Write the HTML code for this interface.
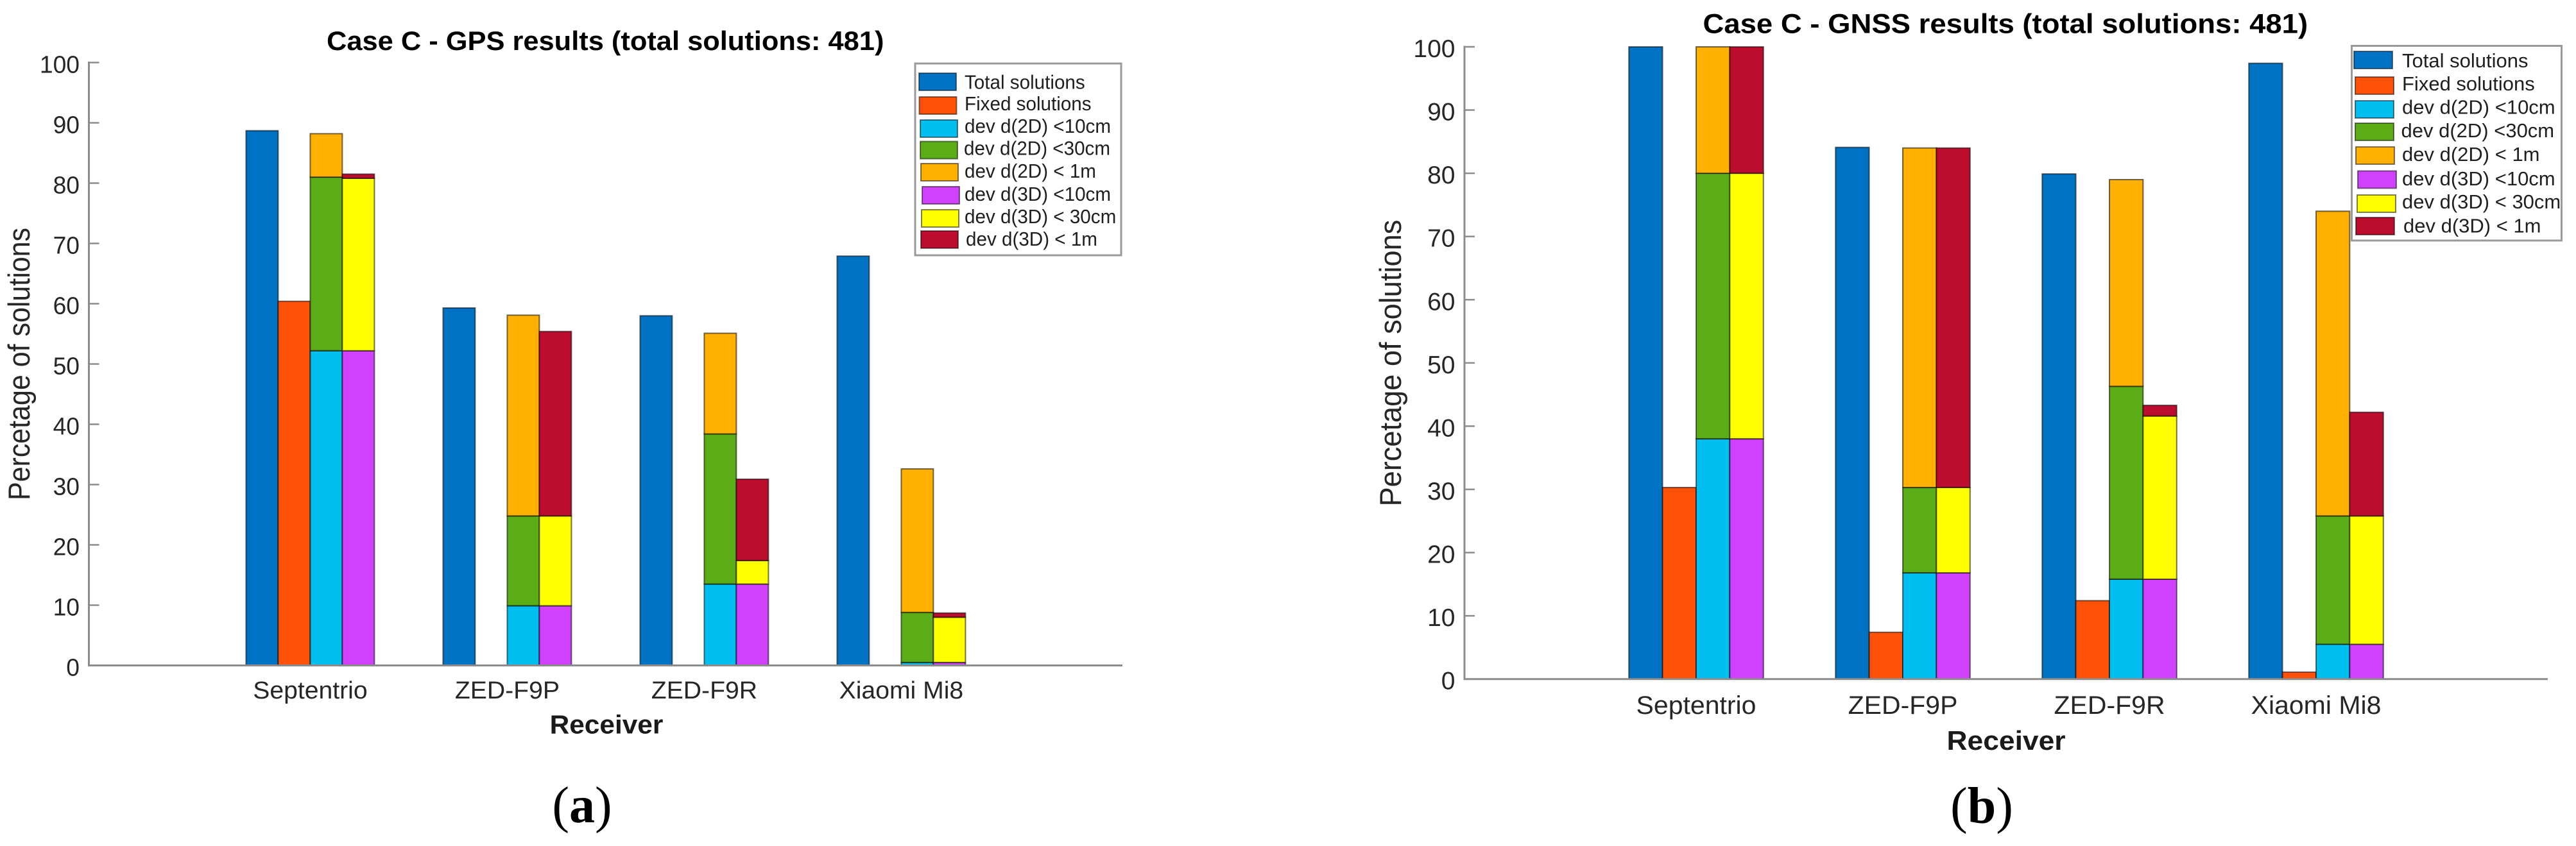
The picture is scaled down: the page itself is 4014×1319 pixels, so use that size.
<!DOCTYPE html>
<html lang="en">
<head>
<meta charset="utf-8">
<title>Case C - GPS and GNSS results</title>
<style>
html,body{margin:0;padding:0;background:#fff;}
body{width:4014px;height:1319px;overflow:hidden;}
svg{display:block;}
text{font-family:"Liberation Sans",Arial,sans-serif;fill:#262626;}
.serif{font-family:"Liberation Serif","Times New Roman",serif;fill:#000;}
.title{font-weight:bold;fill:#000;}
.xlabel{font-weight:bold;fill:#1a1a1a;}
.lt{fill:#1f1f1f;}
.sw{stroke:rgba(0,0,0,.5);stroke-width:2;}
.lb{fill:#fff;stroke:#9a9a9a;stroke-width:3;}
</style>
</head>
<body>
<svg id="fig" xmlns="http://www.w3.org/2000/svg" width="4014" height="1319" viewBox="0 0 4014 1319">
  <rect width="4014" height="1319" fill="#fff"/>

  <!-- Panel A -->
  <g id="panelA">
    <text class="title" font-size="42" transform="translate(509,78) scale(1.034,1)">Case C - GPS results (total solutions: 481)</text>
    <text font-size="47" transform="translate(46,780) rotate(-90) scale(.914,1)">Percetage of solutions</text>
    <text class="xlabel" font-size="41" text-anchor="middle" transform="translate(945,1143.5) scale(1.034,1)">Receiver</text>
    <g id="plotA"></g>
    <g>
      <rect class="lb" x="1426" y="99" width="321" height="299"/>
      <rect class="sw" x="1432" y="114" width="58" height="27" fill="#0072C4"/>
      <rect class="sw" x="1432.5" y="151" width="58" height="27" fill="#FF5208"/>
      <rect class="sw" x="1434" y="187" width="58" height="27" fill="#00BFF0"/>
      <rect class="sw" x="1434" y="220.5" width="58" height="27" fill="#5AAD16"/>
      <rect class="sw" x="1435" y="255" width="58" height="27" fill="#FFB000"/>
      <rect class="sw" x="1437" y="291" width="58" height="27" fill="#D042FF"/>
      <rect class="sw" x="1436" y="327" width="58" height="27" fill="#FFFF00"/>
      <rect class="sw" x="1435" y="360" width="58" height="27" fill="#BD0D2F"/>
      <text class="lt" font-size="31" transform="translate(1503,138.5) scale(.956,1)">Total solutions</text>
      <text class="lt" font-size="31" transform="translate(1503,172) scale(.956,1)">Fixed solutions</text>
      <text class="lt" font-size="31" transform="translate(1503,207) scale(.956,1)">dev d(2D) &lt;10cm</text>
      <text class="lt" font-size="31" transform="translate(1502,241.5) scale(.956,1)">dev d(2D) &lt;30cm</text>
      <text class="lt" font-size="31" transform="translate(1503,277) scale(.956,1)">dev d(2D) &lt; 1m</text>
      <text class="lt" font-size="31" transform="translate(1503,313) scale(.956,1)">dev d(3D) &lt;10cm</text>
      <text class="lt" font-size="31" transform="translate(1503,348) scale(.956,1)">dev d(3D) &lt; 30cm</text>
      <text class="lt" font-size="31" transform="translate(1505,383) scale(.956,1)">dev d(3D) &lt; 1m</text>
    </g>
    <text class="serif" font-size="80" text-anchor="middle" x="907" y="1282">(<tspan font-weight="bold">a</tspan>)</text>
  </g>

  <!-- Panel B -->
  <g id="panelB">
    <text class="title" font-size="43" transform="translate(2653.5,51.5) scale(1.058,1)">Case C - GNSS results (total solutions: 481)</text>
    <text font-size="47" transform="translate(2183,789.5) rotate(-90) scale(.961,1)">Percetage of solutions</text>
    <text class="xlabel" font-size="42" text-anchor="middle" transform="translate(3126,1169) scale(1.057,1)">Receiver</text>
    <g id="plotB"></g>
    <g>
      <rect class="lb" x="3664.5" y="71.5" width="327" height="303.5"/>
      <rect class="sw" x="3668" y="80" width="60" height="27" fill="#0072C4"/>
      <rect class="sw" x="3670" y="120" width="60" height="27" fill="#FF5208"/>
      <rect class="sw" x="3670" y="157" width="60" height="27" fill="#00BFF0"/>
      <rect class="sw" x="3670" y="192" width="60" height="27" fill="#5AAD16"/>
      <rect class="sw" x="3671" y="229" width="60" height="27" fill="#FFB000"/>
      <rect class="sw" x="3674" y="266.5" width="60" height="27" fill="#D042FF"/>
      <rect class="sw" x="3673" y="304" width="60" height="27" fill="#FFFF00"/>
      <rect class="sw" x="3671" y="339" width="60" height="27" fill="#BD0D2F"/>
      <text class="lt" font-size="31" transform="translate(3743,105)">Total solutions</text>
      <text class="lt" font-size="31" transform="translate(3743,141)">Fixed solutions</text>
      <text class="lt" font-size="31" transform="translate(3743,177.5)">dev d(2D) &lt;10cm</text>
      <text class="lt" font-size="31" transform="translate(3741.5,214)">dev d(2D) &lt;30cm</text>
      <text class="lt" font-size="31" transform="translate(3743,251)">dev d(2D) &lt; 1m</text>
      <text class="lt" font-size="31" transform="translate(3743,289)">dev d(3D) &lt;10cm</text>
      <text class="lt" font-size="31" transform="translate(3743,325)">dev d(3D) &lt; 30cm</text>
      <text class="lt" font-size="31" transform="translate(3745,362.5)">dev d(3D) &lt; 1m</text>
    </g>
    <text class="serif" font-size="80" text-anchor="middle" x="3088" y="1283">(<tspan font-weight="bold">b</tspan>)</text>
  </g>
</svg>

<script>
/* ---------- data ---------- */
const categories = ['Septentrio', 'ZED-F9P', 'ZED-F9R', 'Xiaomi Mi8'];
const yTickLabels = [0, 10, 20, 30, 40, 50, 60, 70, 80, 90, 100];

const gpsTotal  = [88.7, 59.3, 58.0, 67.9];
const gpsFixed  = [60.4, 0, 0, 0];
const gps2d10cm = [52.2, 9.9, 13.5, 0.5];
const gps2d30cm = [81.0, 24.8, 38.4, 8.8];
const gps2d1m   = [88.2, 58.1, 55.1, 32.6];
const gps3d10cm = [52.2, 9.9, 13.5, 0.5];
const gps3d30cm = [80.8, 24.8, 17.4, 8.0];
const gps3d1m   = [81.5, 55.4, 30.9, 8.7];

const gnssTotal  = [100, 84.1, 79.9, 97.4];
const gnssFixed  = [30.3, 7.4, 12.4, 1.1];
const gnss2d10cm = [38.0, 16.8, 15.8, 5.5];
const gnss2d30cm = [80.0, 30.3, 46.3, 25.8];
const gnss2d1m   = [100, 84.0, 79.0, 74.0];
const gnss3d10cm = [38.0, 16.8, 15.8, 5.5];
const gnss3d30cm = [80.0, 30.3, 41.6, 25.8];
const gnss3d1m   = [100, 84.0, 43.3, 42.2];

/* ---------- drawing ---------- */
const COLORS = {
  total: '#0072C4', fixed: '#FF5208',
  d2a: '#00BFF0', d2b: '#5AAD16', d2c: '#FFB000',
  d3a: '#D042FF', d3b: '#FFFF00', d3c: '#BD0D2F'
};
const SVGNS = 'http://www.w3.org/2000/svg';

function drawPanel(cfg) {
  const g = document.getElementById(cfg.groupId);
  const yScale = v => cfg.yZero - v * (cfg.yZero - cfg.yTop) / 100;
  const xScale = (cat, slot) => cfg.firstCenter + cat * cfg.step + (slot - 2) * cfg.barW;

  function addRect(x, yA, yB, fill, name) {
    const r = document.createElementNS(SVGNS, 'rect');
    r.setAttribute('x', x);
    r.setAttribute('y', Math.min(yA, yB));
    r.setAttribute('width', cfg.barW);
    r.setAttribute('height', Math.abs(yB - yA));
    r.setAttribute('fill', fill);
    r.setAttribute('stroke', 'rgba(0,0,0,.55)');
    r.setAttribute('stroke-width', '2');
    
    
    g.appendChild(r);
  }

  categories.forEach((cat, i) => {
    cfg.slots.forEach((stack, slot) => {
      let prev = 0;
      stack.forEach(seg => {
        const v = seg.values[i];
        if (v > prev) {
          addRect(xScale(i, slot), yScale(prev), yScale(v), seg.color, cfg.prefix + '-bar-' + seg.key + '-' + i);
          prev = v;
        }
      });
    });
  });

  function addLine(x1, y1, x2, y2, width, color, name) {
    const l = document.createElementNS(SVGNS, 'line');
    l.setAttribute('x1', x1);
    l.setAttribute('y1', y1);
    l.setAttribute('x2', x2);
    l.setAttribute('y2', y2);
    l.setAttribute('stroke', color);
    l.setAttribute('stroke-width', width);
    
    
    g.appendChild(l);
  }

  function addText(str, x, y, size, anchor, sx, name) {
    const t = document.createElementNS(SVGNS, 'text');
    t.textContent = str;
    t.setAttribute('font-size', size);
    t.setAttribute('text-anchor', anchor);
    t.setAttribute('transform', 'translate(' + x + ',' + y + ') scale(' + sx + ',1)');
    
    
    g.appendChild(t);
  }

  addLine(cfg.xLeft, cfg.yTop - 1.5, cfg.xLeft, cfg.yZero + 1.5, 3, '#8c8c8c', cfg.prefix + '-y-axis-line');
  addLine(cfg.xLeft, cfg.yZero, cfg.xRight, cfg.yZero, 3, '#8c8c8c', cfg.prefix + '-x-axis-line');

  yTickLabels.forEach(v => {
    const y = yScale(v);
    addLine(cfg.xLeft, y, cfg.xLeft + 16, y, 2.5, '#8c8c8c', cfg.prefix + '-y-tick-' + v);
    addText(String(v), cfg.xLeft - 14.5, y + 16, cfg.tickFont, 'end', cfg.tickScale, cfg.prefix + '-y-tick-label-' + v);
  });

  categories.forEach((cat, i) => {
    addText(cat, cfg.firstCenter + i * cfg.step, cfg.xLabelY, cfg.xFont, 'middle', cfg.xScaleText, cfg.prefix + '-x-tick-label-' + i);
  });
}

drawPanel({
  groupId: 'plotA', prefix: 'gps',
  xLeft: 138.5, xRight: 1749, yTop: 97.5, yZero: 1037.5,
  firstCenter: 483.4, step: 307, barW: 50,
  tickFont: 38, tickScale: .98, xFont: 38, xScaleText: 1.03, xLabelY: 1089,
  slots: [
    [{key: 'total', values: gpsTotal, color: COLORS.total}],
    [{key: 'fixed', values: gpsFixed, color: COLORS.fixed}],
    [{key: '2d-10cm', values: gps2d10cm, color: COLORS.d2a},
     {key: '2d-30cm', values: gps2d30cm, color: COLORS.d2b},
     {key: '2d-1m', values: gps2d1m, color: COLORS.d2c}],
    [{key: '3d-10cm', values: gps3d10cm, color: COLORS.d3a},
     {key: '3d-30cm', values: gps3d30cm, color: COLORS.d3b},
     {key: '3d-1m', values: gps3d1m, color: COLORS.d3c}]
  ]
});

drawPanel({
  groupId: 'plotB', prefix: 'gnss',
  xLeft: 2282, xRight: 3970, yTop: 73, yZero: 1058.7,
  firstCenter: 2643, step: 322, barW: 52.4,
  tickFont: 39, tickScale: 1, xFont: 40, xScaleText: 1.025, xLabelY: 1113,
  slots: [
    [{key: 'total', values: gnssTotal, color: COLORS.total}],
    [{key: 'fixed', values: gnssFixed, color: COLORS.fixed}],
    [{key: '2d-10cm', values: gnss2d10cm, color: COLORS.d2a},
     {key: '2d-30cm', values: gnss2d30cm, color: COLORS.d2b},
     {key: '2d-1m', values: gnss2d1m, color: COLORS.d2c}],
    [{key: '3d-10cm', values: gnss3d10cm, color: COLORS.d3a},
     {key: '3d-30cm', values: gnss3d30cm, color: COLORS.d3b},
     {key: '3d-1m', values: gnss3d1m, color: COLORS.d3c}]
  ]
});
</script>
</body>
</html>
